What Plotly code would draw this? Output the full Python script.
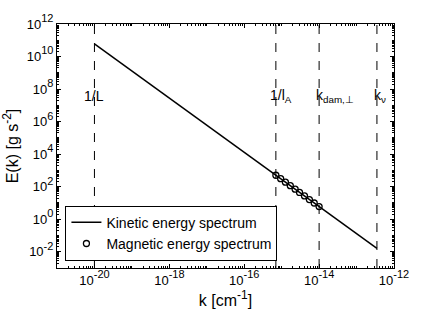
import math
import plotly.graph_objects as go

# Kinetic energy spectrum (line endpoints)
k_kin = [1e-20, 3.5e-13]
E_kin = [6.0e10, 0.016]

# Magnetic energy spectrum (markers)
k_mag = [7.0e-16, 9.4e-16, 1.26e-15, 1.7e-15, 2.29e-15, 3.0e-15, 4.07e-15, 5.5e-15, 7.4e-15, 1.0e-14]
E_mag = [505, 309, 190, 115, 70, 44, 27, 16, 9.9, 6.0]

# Characteristic scales
scale_k = [1e-20, 7.0e-16, 1.0e-14, 3.5e-13]
scale_labels = ["1/L", "1/l<sub>A</sub>", "k<sub>dam,⊥</sub>", "k<sub>ν</sub>"]
label_E = 10 ** 7.55

# Tick labels
x_tick_exp = [-20, -18, -16, -14, -12]
y_tick_exp = [-2, 0, 2, 4, 6, 8, 10, 12]

FONT = "Liberation Sans, Arial, sans-serif"


def sup(s, px):
    # superscript rendered at roughly px pixels (plotly sup = 70% of parent)
    return f"<span style='font-size:{px / 0.7:.1f}px'><sup>{s}</sup></span>"


fig = go.Figure()
for kv in scale_k:
    fig.add_trace(go.Scatter(x=[kv, kv], y=[1e-3, 1e12], mode="lines",
                             line=dict(color="black", width=1, dash="dash"),
                             showlegend=False, hoverinfo="skip"))
fig.add_trace(go.Scatter(x=k_kin, y=E_kin, mode="lines",
                         line=dict(color="black", width=1.5),
                         name="Kinetic energy spectrum"))
fig.add_trace(go.Scatter(x=k_mag, y=E_mag, mode="markers",
                         marker=dict(symbol="circle-open", color="black", size=6,
                                     line=dict(width=1.3, color="black")),
                         name="Magnetic energy spectrum"))

shifts = [0, -8, -5, -5]
anchors = ["center", "left", "left", "left"]
for kv, lab, sh, an in zip(scale_k, scale_labels, shifts, anchors):
    fig.add_annotation(x=math.log10(kv), y=math.log10(label_E), xref="x", yref="y",
                       text=lab, showarrow=False,
                       xanchor=an, yanchor="middle", xshift=sh,
                       font=dict(family=FONT, size=14, color="black"))

axis_common = dict(type="log", showgrid=False, zeroline=False, automargin=False,
                   showline=True, linecolor="black", linewidth=1, mirror="ticks",
                   ticks="inside", ticklen=4, tickcolor="black",
                   minor=dict(ticks="inside", ticklen=2, tickcolor="black", dtick="D1"),
                   tickfont=dict(family=FONT, size=13, color="black"))

fig.update_xaxes(range=[-21, -12],
                 tickvals=[10 ** e for e in x_tick_exp],
                 ticktext=[f"10{sup(e, 11)}" for e in x_tick_exp],
                 title=dict(text=f"k [cm{sup(-1, 12)}]", standoff=2,
                            font=dict(family=FONT, size=16, color="black")),
                 **axis_common)
fig.update_yaxes(range=[-3, 12],
                 tickvals=[10 ** e for e in y_tick_exp],
                 ticktext=[f"10{sup(e, 11)}" for e in y_tick_exp],
                 title=dict(text=f"E(k) [g s{sup(-2, 12)}]", standoff=4,
                            font=dict(family=FONT, size=16, color="black")),
                 **axis_common)

fig.update_layout(
    width=436, height=314,
    margin=dict(l=57, r=42, t=24, b=46),
    paper_bgcolor="white", plot_bgcolor="white",
    font=dict(family=FONT, color="black"),
    legend=dict(x=0.025, y=0.03, xanchor="left", yanchor="bottom",
                bordercolor="black", borderwidth=1, bgcolor="white",
                font=dict(family=FONT, size=14, color="black"),
                tracegroupgap=0, itemwidth=30),
)

fig.write_html("out.html",
               config={"displayModeBar": False},
               post_script="document.body.style.margin='0px';document.body.style.padding='0px';")
